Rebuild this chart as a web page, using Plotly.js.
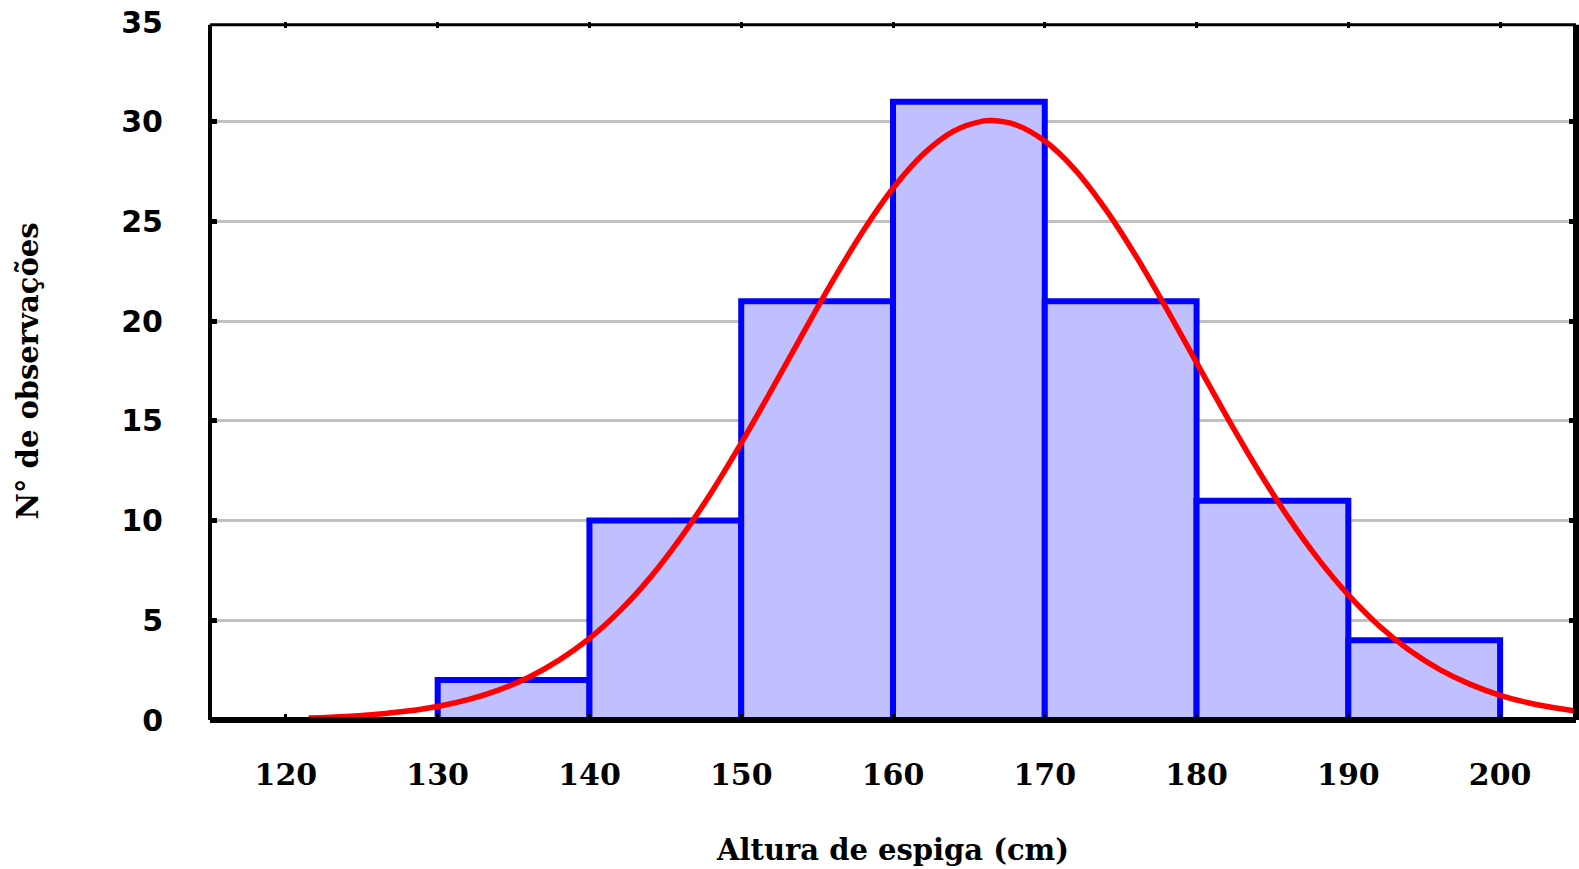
<!DOCTYPE html>
<html>
<head>
<meta charset="utf-8">
<script src="https://cdn.plot.ly/plotly-3.0.1.min.js"></script>
<style>html,body{margin:0;padding:0;background:#fff;}#chart{width:1579px;height:869px;}</style>
</head>
<body>
<div id="chart"></div>
<script>
// Histogram bins (cm) and counts
const binStart = [130, 140, 150, 160, 170, 180, 190];
const binWidth = 10;
const counts = [2, 10, 21, 31, 21, 11, 4];

// Fitted normal curve
const curveX = [121.5, 124, 126, 128, 130, 132, 134, 136, 138, 140, 142, 144, 146, 148, 150, 152, 154, 156, 158, 160, 162, 164, 166, 166.5, 168, 170, 172, 174, 176, 178, 180, 182, 184, 186, 188, 190, 192, 194, 196, 198, 200, 202, 204, 205];
const curveY = [0.10, 0.18, 0.29, 0.45, 0.68, 1.02, 1.50, 2.14, 3.00, 4.09, 5.47, 7.14, 9.12, 11.37, 13.88, 16.55, 19.29, 21.98, 24.48, 26.66, 28.38, 29.53, 30.04, 30.06, 29.87, 29.03, 27.59, 25.62, 23.27, 20.65, 17.92, 15.20, 12.60, 10.21, 8.09, 6.27, 4.74, 3.51, 2.54, 1.80, 1.24, 0.84, 0.56, 0.45];

const xTicks = [120, 130, 140, 150, 160, 170, 180, 190, 200];
const yTicks = [0, 5, 10, 15, 20, 25, 30, 35];

const xTitle = 'Altura de espiga (cm)';
const yTitle = 'N° de observações';

const barCenters = binStart.map(s => s + binWidth / 2);

const traces = [
  {
    type: 'bar',
    x: barCenters,
    y: counts,
    width: binWidth,
    marker: {color: '#c0c0ff', line: {color: '#0000ff', width: 6}},
    hoverinfo: 'x+y'
  },
  {
    type: 'scatter',
    mode: 'lines',
    x: curveX,
    y: curveY,
    line: {color: '#ff0000', width: 5.5, shape: 'spline'},
    hoverinfo: 'x+y'
  }
];

const serif = '"DejaVu Serif", "Liberation Serif", serif';
const sans = '"DejaVu Sans", "Liberation Sans", sans-serif';

const layout = {
  width: 1579,
  height: 869,
  margin: {l: 210, r: 3, t: 22, b: 149},
  paper_bgcolor: '#ffffff',
  plot_bgcolor: '#ffffff',
  showlegend: false,
  bargap: 0,
  xaxis: {
    range: [115, 205],
    tickvals: xTicks,
    ticktext: xTicks.map(String),
    ticks: 'inside',
    ticklen: 6,
    tickwidth: 3,
    tickcolor: '#000',
    mirror: 'ticks',
    showline: false,
    showgrid: false,
    zeroline: false,
    ticklabelstandoff: 34,
    tickfont: {family: serif, size: 30, color: '#000', weight: 'bold'},
    title: {text: xTitle, font: {family: serif, size: 29, color: '#000', weight: 'bold'}, standoff: 48}
  },
  yaxis: {
    range: [0, 35],
    tickvals: yTicks,
    ticktext: yTicks.map(String),
    ticks: 'inside',
    ticklen: 7,
    tickwidth: 5,
    tickcolor: '#000',
    mirror: 'ticks',
    showline: false,
    showgrid: true,
    gridcolor: '#c0c0c0',
    gridwidth: 3,
    zeroline: false,
    ticklabelstandoff: 46,
    tickfont: {family: sans, size: 30, color: '#000', weight: 'bold'},
    title: {text: yTitle, font: {family: serif, size: 29, color: '#000', weight: 'bold'}, standoff: 74}
  },
  shapes: [
    {type: 'line', xref: 'paper', yref: 'paper', x0: 0, x1: 1, y0: 0, y1: 0, line: {color: '#000', width: 6}, layer: 'above'},
    {type: 'line', xref: 'paper', yref: 'paper', x0: 0, x1: 1, y0: 0.996, y1: 0.996, line: {color: '#000', width: 3}, layer: 'above'},
    {type: 'line', xref: 'paper', yref: 'paper', x0: 0, x1: 0, y0: 0, y1: 0.996, line: {color: '#000', width: 4}, layer: 'above'},
    {type: 'line', xref: 'paper', yref: 'paper', x0: 1, x1: 1, y0: 0, y1: 0.996, line: {color: '#000', width: 6}, layer: 'above'}
  ]
};

Plotly.newPlot('chart', traces, layout, {displayModeBar: false, staticPlot: true});
</script>
</body>
</html>
